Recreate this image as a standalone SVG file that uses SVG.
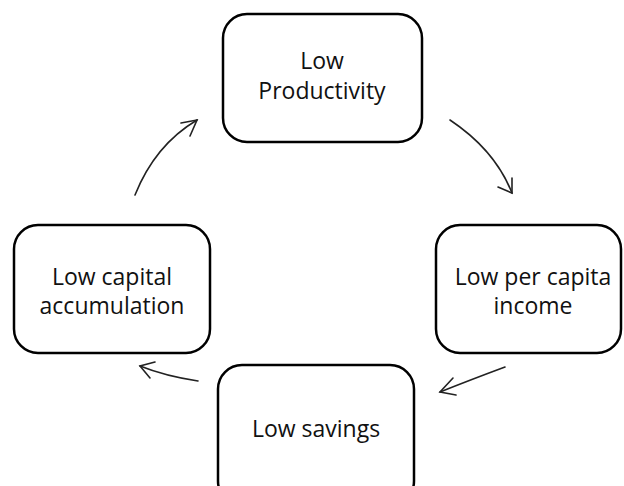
<svg xmlns="http://www.w3.org/2000/svg" width="624" height="486" viewBox="0 0 624 486">
<style>
.box{fill:#fff;stroke:#000;stroke-width:2.5}
.lbl{font-family:"Open Sans","Liberation Sans",sans-serif;font-size:23px;fill:#111;text-anchor:middle}
.arr{fill:none;stroke:#222;stroke-width:1.6;stroke-linecap:round}
</style>
<rect width="624" height="486" fill="#fff"/>
<g id="node-productivity">
<rect class="box" x="223" y="14" width="199" height="128" rx="24"/>
<text class="lbl" x="322" y="69">Low</text>
<text class="lbl" x="322" y="99">Productivity</text>
</g>
<g id="node-income">
<rect class="box" x="436" y="225" width="185" height="128" rx="24"/>
<text class="lbl" x="533" y="285">Low per capita</text>
<text class="lbl" x="533" y="314">income</text>
</g>
<g id="node-savings">
<rect class="box" x="218" y="365" width="196" height="140" rx="24"/>
<text class="lbl" x="316" y="437">Low savings</text>
</g>
<g id="node-capital">
<rect class="box" x="14" y="225" width="196" height="128" rx="24"/>
<text class="lbl" x="112" y="285">Low capital</text>
<text class="lbl" x="112" y="314">accumulation</text>
</g>
<g id="connectors">
<path class="arr" d="M450 120 Q495 150 512 193"/>
<path class="arr" d="M512 178 L512 193 L498 187"/>
<path class="arr" d="M505 367 Q470 380 440 392"/>
<path class="arr" d="M453 378 L440 392 L456 395"/>
<path class="arr" d="M198 381 Q165 376 140 366"/>
<path class="arr" d="M155 362 L140 366 L150 378"/>
<path class="arr" d="M135 195 Q155 145 197 120"/>
<path class="arr" d="M181 123 L197 120 L190 136"/>
</g>
</svg>
